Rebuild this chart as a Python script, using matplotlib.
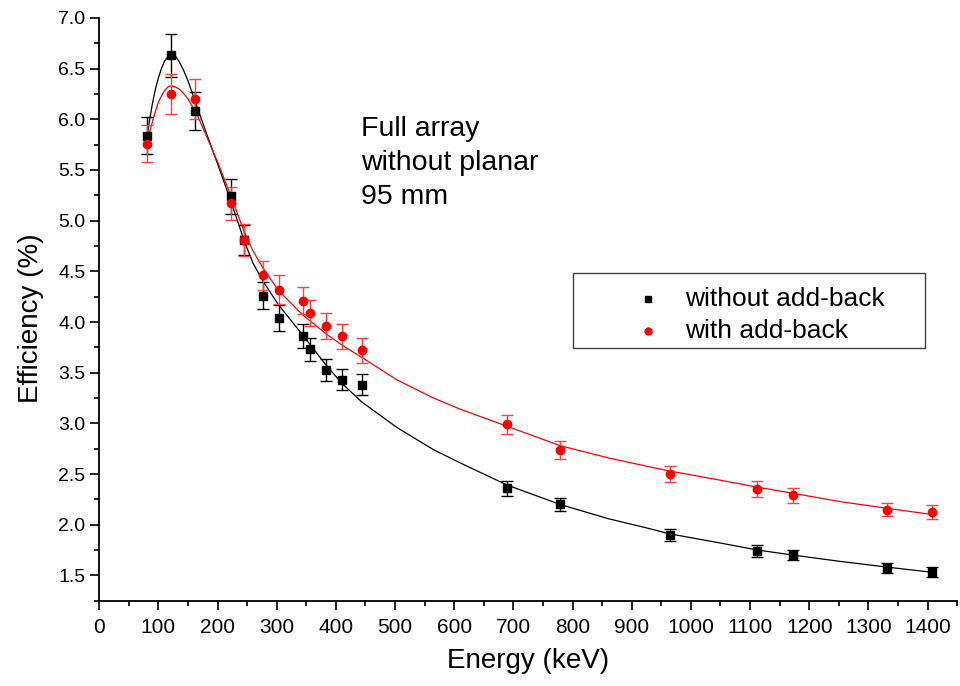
import matplotlib
matplotlib.use("Agg")
import matplotlib.pyplot as plt
from matplotlib.patches import Rectangle
from matplotlib.ticker import MultipleLocator, FormatStrFormatter

plt.rcParams['font.family'] = ['Liberation Sans', 'DejaVu Sans']

# measured points (energy in keV, efficiency in %)
energy = [81, 122, 161, 223, 244, 276, 303, 344, 356, 384, 411, 444,
          689, 779, 964, 1112, 1173, 1332, 1408]

eff_no_ab = [5.84, 6.63, 6.08, 5.24, 4.81, 4.26, 4.04, 3.86, 3.73, 3.53, 3.43, 3.38,
             2.36, 2.20, 1.90, 1.74, 1.70, 1.57, 1.53]
err_no_ab = [0.18, 0.21, 0.19, 0.17, 0.15, 0.135, 0.13, 0.12, 0.115, 0.11, 0.105, 0.105,
             0.074, 0.068, 0.06, 0.055, 0.05, 0.05, 0.05]

eff_ab = [5.76, 6.25, 6.20, 5.17, 4.81, 4.46, 4.32, 4.21, 4.09, 3.96, 3.86, 3.72,
          2.99, 2.74, 2.50, 2.35, 2.29, 2.15, 2.13]
err_ab = [0.18, 0.20, 0.20, 0.165, 0.16, 0.14, 0.14, 0.135, 0.13, 0.13, 0.125, 0.12,
          0.095, 0.089, 0.083, 0.077, 0.072, 0.067, 0.069]

# fit curves
fit_energy = [81, 85, 90, 95, 100, 105, 110, 116, 122, 128, 135, 142, 150, 165, 180,
              200, 222, 245, 260, 277, 303, 344, 384, 411, 444, 503, 565, 610, 690,
              779, 860, 931, 964, 1040, 1113, 1173, 1250, 1334, 1409]
fit_no_ab = [5.84, 5.99, 6.16, 6.30, 6.41, 6.50, 6.57, 6.62, 6.64, 6.63, 6.57, 6.49,
             6.38, 6.13, 5.88, 5.56, 5.20, 4.80, 4.58, 4.40, 4.17, 3.87, 3.57, 3.39,
             3.21, 2.96, 2.74, 2.61, 2.39, 2.20, 2.06, 1.96, 1.91, 1.83, 1.75, 1.70,
             1.64, 1.58, 1.53]
fit_ab = [5.76, 5.87, 5.98, 6.08, 6.17, 6.23, 6.28, 6.32, 6.33, 6.32, 6.30, 6.26,
          6.20, 6.05, 5.85, 5.58, 5.25, 4.89, 4.70, 4.53, 4.31, 4.07, 3.88, 3.77,
          3.65, 3.43, 3.25, 3.14, 2.97, 2.78, 2.66, 2.57, 2.53, 2.45, 2.37, 2.31,
          2.23, 2.16, 2.10]

fig = plt.figure(figsize=(9.6, 6.86), dpi=100)
ax = fig.add_axes([0.1034, 0.1243, 0.8936, 0.8495])

ax.plot(fit_energy, fit_no_ab, color='black', lw=0.9)
ax.plot(fit_energy, fit_ab, color='red', lw=0.9)

ax.errorbar(energy, eff_no_ab, yerr=err_no_ab, fmt='s', color='black', ms=5.5,
            capsize=4.5, elinewidth=1.0, capthick=1.0, zorder=3)
ax.errorbar(energy, eff_ab, yerr=err_ab, fmt='o', color='red', ecolor='#ff4040', ms=6,
            capsize=4.5, elinewidth=1.0, capthick=1.0, zorder=3)

ax.set_xlim(0, 1450)
ax.set_ylim(1.25, 7.0)
ax.xaxis.set_major_locator(MultipleLocator(100))
ax.xaxis.set_minor_locator(MultipleLocator(50))
ax.yaxis.set_major_locator(MultipleLocator(0.5))
ax.yaxis.set_minor_locator(MultipleLocator(0.25))
ax.yaxis.set_major_formatter(FormatStrFormatter('%.1f'))

for side in ['top', 'right']:
    ax.spines[side].set_visible(False)
for side in ['left', 'bottom']:
    ax.spines[side].set_linewidth(1.3)

ax.tick_params(which='major', direction='out', length=6.5, width=1.2, labelsize=14)
ax.tick_params(which='minor', direction='out', length=3.5, width=1.2)
ax.tick_params(axis='x', labelsize=15, pad=6)

ax.set_xlabel("Energy (keV)", fontsize=20)
ax.set_ylabel("Efficiency (%)", fontsize=20)
ax.xaxis.set_label_coords(0.5, -0.081)
ax.yaxis.set_label_coords(-0.0645, 0.485)

ax.text(0.305, 0.831, "Full array\nwithout planar\n95 mm", transform=ax.transAxes,
        fontsize=20.5, va='top', ha='left', linespacing=1.39)

# legend box
ax.add_patch(Rectangle((0.5523, 0.4337), 0.4104, 0.1287, transform=ax.transAxes,
                       fill=False, edgecolor='#404040', lw=1.0, zorder=4))
ax.plot([0.6393], [0.5170], 's', color='black', ms=4.5, transform=ax.transAxes)
ax.plot([0.6393], [0.4620], 'o', color='red', ms=5, transform=ax.transAxes)
ax.text(0.683, 0.5170, "without add-back", transform=ax.transAxes, fontsize=19, va='center')
ax.text(0.683, 0.4620, "with add-back", transform=ax.transAxes, fontsize=19, va='center')

fig.savefig("out.png", dpi=100)
